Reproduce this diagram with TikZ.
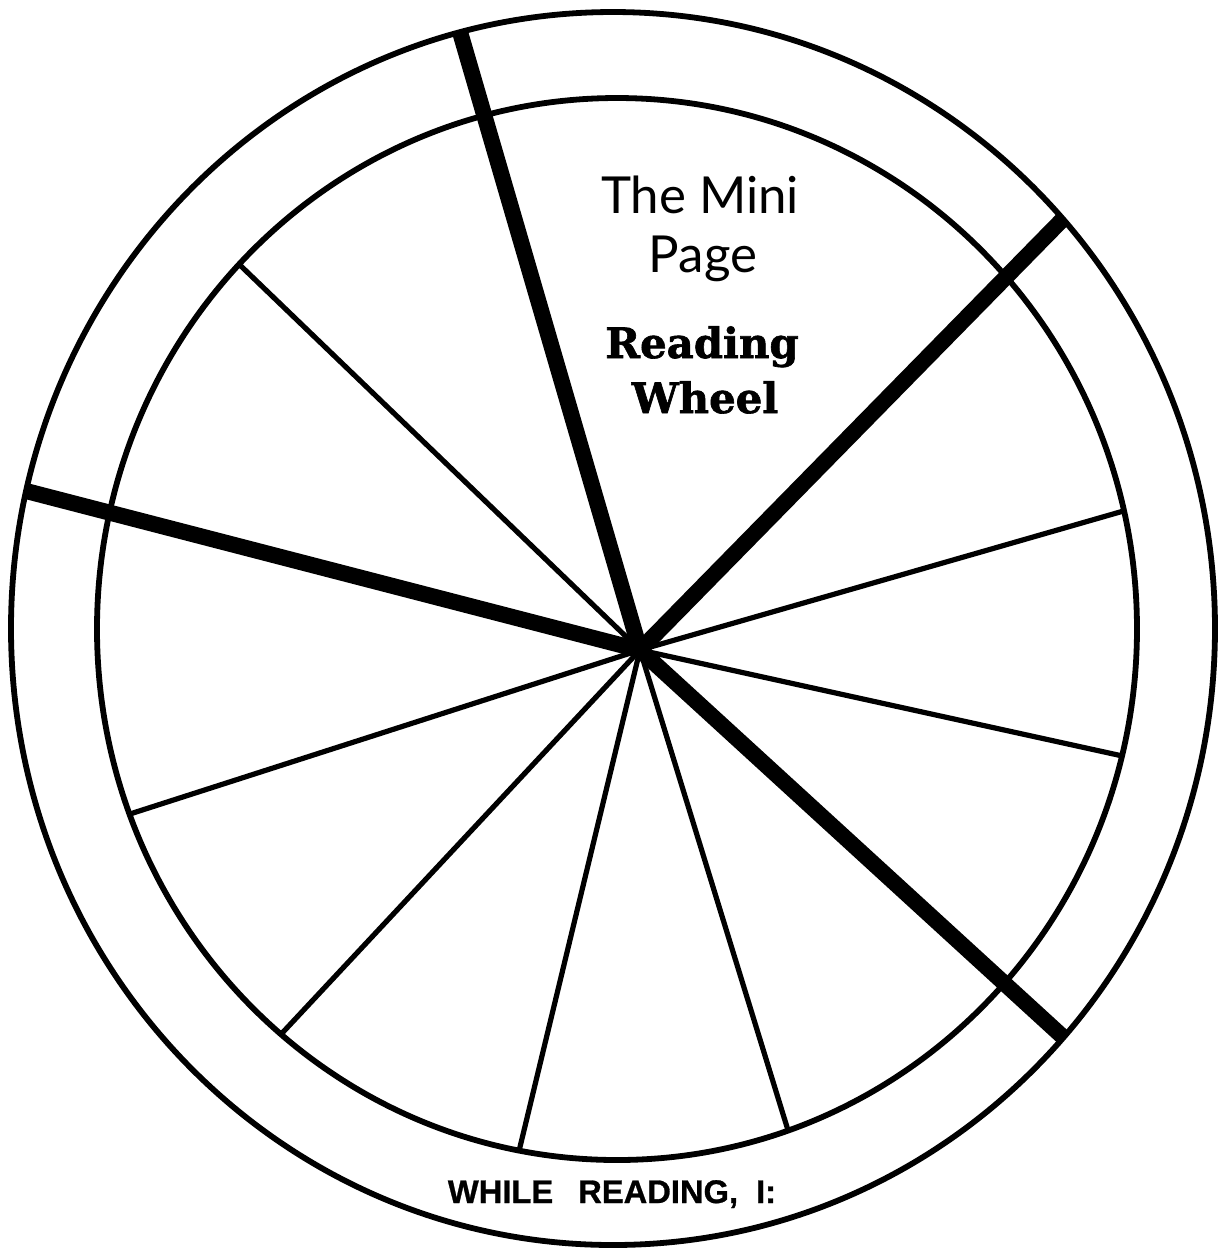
\documentclass[tikz,border=0pt]{standalone}
\usepackage{fontspec}
\usetikzlibrary{calc}
\newfontfamily\minifont{Lato}
\newfontfamily\wheelfont[FakeBold=1.5]{DejaVu Serif Bold}
\newfontfamily\bandfont[FakeBold=0.8]{Liberation Sans Bold}
\tikzset{
  rim/.style={draw=black,line width=0.058cm},
  spoke/.style={draw=black,line width=0.052cm},
  bigspoke/.style={draw=black,line width=0.16cm},
  titletxt/.style={font=\minifont\fontsize{14.5}{17}\selectfont,inner sep=0pt,anchor=base},
  wheeltxt/.style={font=\wheelfont\fontsize{11.9}{15}\selectfont,inner sep=0pt,anchor=base},
  bandtxt/.style={font=\bandfont\fontsize{9.3}{11}\selectfont,inner sep=0pt,anchor=base},
}
\begin{document}
\begin{tikzpicture}[x=0.01cm,y=-0.01cm]
  \useasboundingbox (0,0) rectangle (1227,1256);
  \coordinate (hub) at (640,650);
  % thin spokes, cut at the inner rim
  \begin{scope}
    \clip (617,629) ellipse [x radius=520, y radius=531];
    \foreach \x/\y in {243/268,133/813,285/1030,520/1147,787/1127,1120/512,1118/755}{ \draw[spoke] (hub) -- ($(hub)!1.3!(\x,\y)$); }
  \end{scope}
  % heavy spokes, cut at the outer rim
  \begin{scope}
    \clip (613,628.5) ellipse [x radius=602, y radius=616.5];
    \foreach \x/\y in {460/32,1061/221,30/492,1063/1037}{ \draw[bigspoke] (hub) -- ($(hub)!1.2!(\x,\y)$); }
  \end{scope}
  % rims
  \draw[rim] (613,628.5) ellipse [x radius=602, y radius=616.5];
  \draw[rim] (617,629) ellipse [x radius=520, y radius=531];
  % labels
  \node[titletxt] (mini) at (700,213) {The Mini};
  \node[titletxt] (page) at (703,272) {Page};
  \node[wheeltxt] (reading) at (702,358) {Reading};
  \node[wheeltxt] (wheel) at (705,413) {Wheel};
  \node[bandtxt] (band) at (612,1203) {WHILE\hspace{0.25cm}READING,\hspace{0.18cm}I:};
\end{tikzpicture}
\end{document}
